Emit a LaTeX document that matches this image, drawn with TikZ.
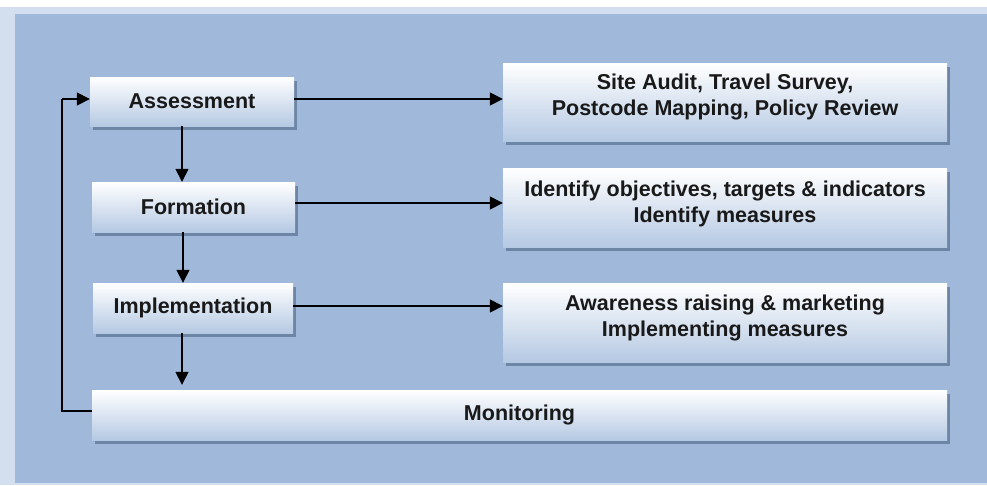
\documentclass[tikz,border=0pt]{standalone}
\usepackage{fontspec}
\setmainfont{Liberation Sans}
\usetikzlibrary{arrows.meta,shadows}
\definecolor{panel}{HTML}{A0B9DA}
\definecolor{band}{HTML}{D3DEEE}
\definecolor{boxbot}{HTML}{B5C9E3}
\definecolor{shd}{HTML}{6E86A6}
\tikzset{
  stage/.style={rectangle, inner sep=0pt, top color=white, bottom color=boxbot,
    drop shadow={shadow xshift=3pt, shadow yshift=-4pt, fill=shd, opacity=1},
    font=\fontsize{21.5}{26}\selectfont\bfseries, align=center, text=black!90},
  arr/.style={line width=1.6pt, -{Triangle[length=13pt,width=13pt]}},
  ln/.style={line width=1.6pt}
}
\begin{document}
\begin{tikzpicture}[x=1pt,y=-1pt]
\useasboundingbox (0,0) rectangle (987,485);
\fill[white] (0,0) rectangle (987,485);
\fill[band] (0,7) rectangle (987,485);
\fill[panel] (15,14) rectangle (987,483);

\node[stage, minimum width=204pt, minimum height=49pt] (ass) at (192,101.5) {Assessment};
\node[stage, minimum width=203pt, minimum height=50pt] (form) at (193.5,207) {Formation};
\node[stage, minimum width=200pt, minimum height=50pt] (impl) at (193,308) {Implementation};
\node[stage, minimum width=855pt, minimum height=50pt] (mon) at (519.5,415) {Monitoring};

\node[stage, minimum width=444pt, minimum height=78pt, text depth=14pt] (r1) at (725,102) {Site Audit, Travel Survey,\\Postcode Mapping, Policy Review};
\node[stage, minimum width=444pt, minimum height=79pt, text depth=12pt] (r2) at (725,207.5) {Identify objectives, targets \& indicators\\Identify measures};
\node[stage, minimum width=444pt, minimum height=79pt, text depth=14pt] (r3) at (725,322.5) {Awareness raising \& marketing\\Implementing measures};

\draw[arr] (ass.east|-0,99) -- (r1.west|-0,99);
\draw[arr] (form.east|-0,203) -- (r2.west|-0,203);
\draw[arr] (impl.east|-0,306) -- (r3.west|-0,306);

\draw[arr] (ass.south-|182,0) -- (form.north-|182,0);
\draw[arr] (form.south-|183,0) -- (impl.north-|183,0);
\draw[arr, shorten >=5pt] (impl.south-|182,0) -- (mon.north-|182,0);

\coordinate (lb) at (62,411);
\coordinate (lt) at (62,99);
\draw[ln] (mon.west|-lb) -- (lb) -- (lt);
\draw[arr] (lt) -- (ass.west|-lt);
\end{tikzpicture}
\end{document}
